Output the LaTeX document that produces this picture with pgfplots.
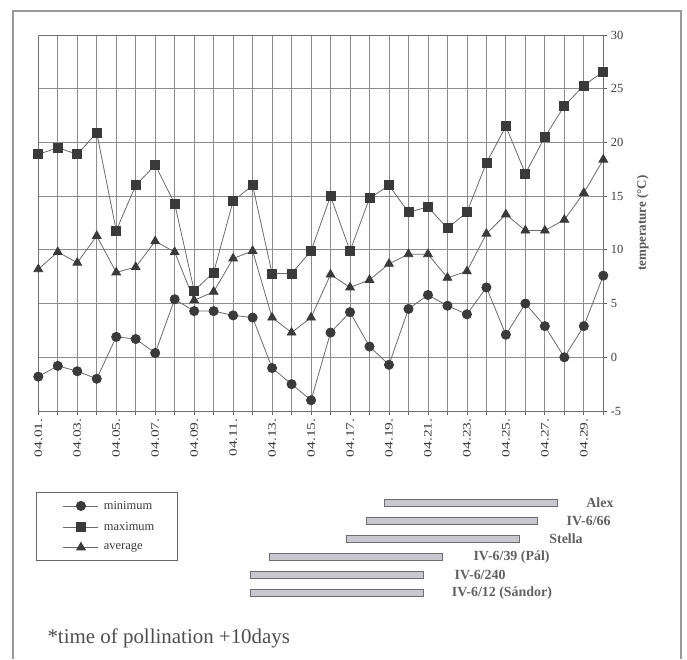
\documentclass[border=0pt]{standalone}
\usepackage{fontspec}
\setmainfont{Liberation Serif}
\usepackage{pgfplots}
\pgfplotsset{compat=1.18}
\usepackage{graphicx}
\definecolor{gridc}{HTML}{8C8C8C}
\definecolor{ink}{HTML}{3A3A3A}
\definecolor{linec}{HTML}{6A6A6A}
\definecolor{barfill}{HTML}{C8C8CE}
\definecolor{barline}{HTML}{6E6E6E}
\definecolor{framec}{HTML}{9A9A9A}
\newcommand\tl[1]{\scalebox{1.35}[1]{#1}}
\tikzset{barlab/.style={anchor=west, font=\fontsize{14}{14}\selectfont\bfseries, text=ink!80}}

\pgfplotstableread{
day min max avg
1 -1.8 18.9 8.2
2 -0.8 19.5 9.8
3 -1.3 18.9 8.8
4 -2.0 20.9 11.3
5 1.9 11.8 7.9
6 1.7 16.0 8.4
7 0.4 17.9 10.8
8 5.4 14.3 9.8
9 4.3 6.2 5.3
10 4.3 7.9 6.1
11 3.9 14.55 9.2
12 3.7 16.0 9.9
13 -1.0 7.8 3.7
14 -2.5 7.8 2.3
15 -4.0 9.9 3.7
16 2.3 15.0 7.7
17 4.2 9.9 6.5
18 1.0 14.8 7.2
19 -0.7 16.0 8.7
20 4.5 13.5 9.6
21 5.8 14.0 9.6
22 4.8 12.0 7.4
23 4.0 13.5 8.0
24 6.5 18.1 11.5
25 2.1 21.5 13.3
26 5.0 17.1 11.8
27 2.9 20.5 11.8
28 0.0 23.4 12.8
29 2.9 25.3 15.3
30 7.6 26.6 18.4
}\temps

\pgfplotstableread{
row start len
6 18.76 8.90
5 17.82 8.82
4 16.80 8.89
3 12.86 8.88
2 11.87 8.89
1 11.87 8.89
}\pollen

\begin{document}
\begin{tikzpicture}
\path[use as bounding box] (0bp,0bp) rectangle (687bp,660bp);
\draw[framec, line width=1.5bp] (13bp,1bp) -- (13bp,649bp) -- (681bp,649bp) -- (681bp,1bp);

\begin{axis}[
  at={(38.3bp,249bp)}, anchor=south west,
  scale only axis, width=565bp, height=376bp,
  xmin=1, xmax=30, ymin=-5, ymax=30,
  xtick={1,...,30},
  xticklabels={\tl{04.01.},,\tl{04.03.},,\tl{04.05.},,\tl{04.07.},,\tl{04.09.},,\tl{04.11.},,\tl{04.13.},,\tl{04.15.},,\tl{04.17.},,\tl{04.19.},,\tl{04.21.},,\tl{04.23.},,\tl{04.25.},,\tl{04.27.},,\tl{04.29.},},
  xticklabel style={rotate=90, anchor=east, font=\fontsize{11.5}{11.5}\selectfont, text=ink},
  ytick={-5,0,5,10,15,20,25,30},
  yticklabel pos=right, ytick pos=right, xtick pos=left,
  yticklabel style={font=\fontsize{12.5}{12.5}\selectfont, text=ink},
  /pgf/number format/assume math mode=true,
  tick align=outside, major tick length=4bp,
  tick style={gridc!70!black, line width=0.8bp},
  grid=major,
  major grid style={gridc, line width=0.8bp},
  axis line style={gridc!80!black, line width=0.9bp},
  ylabel={temperature (°C)},
  every axis y label/.style={at={(axis description cs:1.07,0.5)}, rotate=90, anchor=center, font=\fontsize{13}{13}\selectfont\bfseries, text=ink!85},
  legend style={at={(axis description cs:-0.0046,-0.216)}, anchor=north west,
    draw=gray!80!black, line width=0.7bp, font=\fontsize{12.5}{12.5}\selectfont, text=ink,
    inner xsep=0bp, inner ysep=6.5bp, row sep=7.5bp,
    /tikz/every odd column/.append style={column sep=3bp}},
  legend cell align=left,
  legend image code/.code={\path (-27bp,0bp); \draw[mark repeat=2,mark phase=2] plot coordinates {(0bp,0bp)(17.5bp,0bp)(35bp,0bp)};},
]
\addplot[linec, line width=0.8bp, mark=*, mark size=4.6bp, mark options={fill=ink, draw=ink, solid}] table[x=day, y=min] {\temps};
\addlegendentry{minimum}
\addplot[linec, line width=0.8bp, mark=square*, mark size=4.5bp, mark options={fill=ink, draw=ink, solid}] table[x=day, y=max] {\temps};
\addlegendentry{maximum\hspace*{21bp}}
\addplot[linec, line width=0.8bp, mark=triangle*, mark size=5bp, mark options={fill=ink, draw=ink, solid}] table[x=day, y=avg] {\temps};
\addlegendentry{average}
\end{axis}

\begin{axis}[
  at={(38.3bp,58.35bp)}, anchor=south west,
  scale only axis, width=565bp, height=107.4bp,
  xmin=1, xmax=30, ymin=0.5, ymax=6.5,
  hide axis, clip=false,
  xbar stacked, bar width=7bp,
]
\addplot[draw=none, fill=none] table[x=start, y=row] {\pollen};
\addplot[fill=barfill, draw=barline, line width=0.9bp] table[x=len, y=row] {\pollen};
\node[barlab] at (axis cs:28.95,6) {Alex};
\node[barlab] at (axis cs:27.94,5) {IV-6/66};
\node[barlab] at (axis cs:27.05,4) {Stella};
\node[barlab] at (axis cs:23.16,3) {IV-6/39 (Pál)};
\node[barlab] at (axis cs:22.19,2) {IV-6/240};
\node[barlab] at (axis cs:22.05,1) {IV-6/12 (Sándor)};
\end{axis}

\node[anchor=base west, font=\fontsize{21}{21}\selectfont, text=ink!90] at (44bp,16.7bp) {*time of pollination +10days};
\end{tikzpicture}
\end{document}
